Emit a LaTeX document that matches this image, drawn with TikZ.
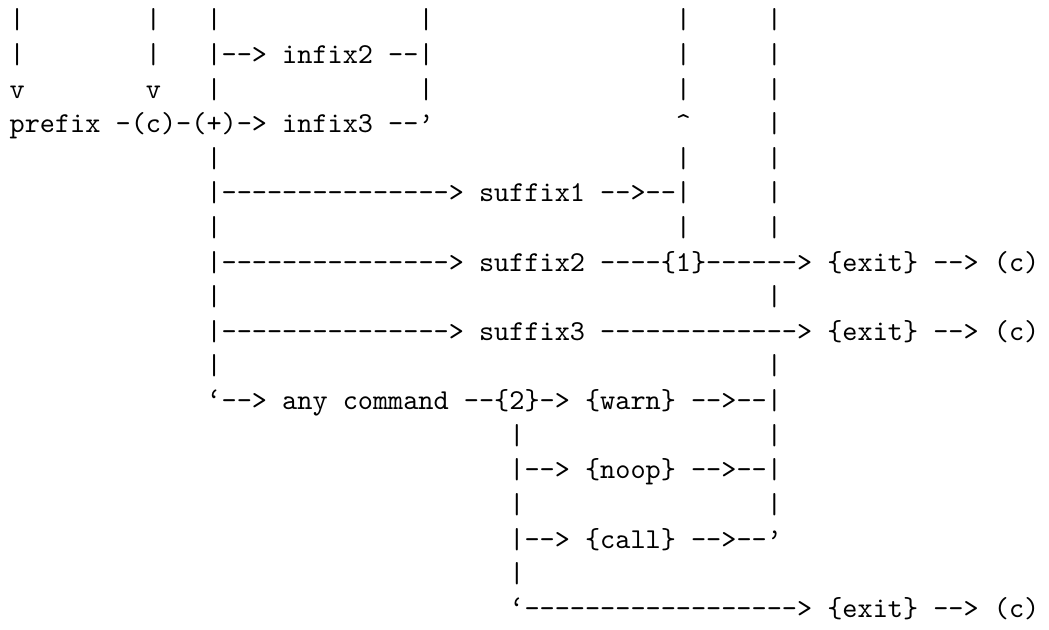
\documentclass[tikz,border=0pt]{standalone}
\usepackage{fontspec}
\setmonofont{lmmono10-regular.otf}
\tikzset{tt/.style={anchor=base west, inner sep=0pt, outer sep=0pt, font=\ttfamily\fontsize{10pt}{12pt}\selectfont}}
\begin{document}
\begin{tikzpicture}[x=5.25pt, y=-12pt]
\useasboundingbox (-0.638,-0.833) rectangle (68.638,17.342);
% row 0
\node[tt] (r0a) at (0,0) {|};
\node[tt] (r0b) at (9,0) {|};
\node[tt] (r0c) at (13,0) {|};
\node[tt] (r0d) at (27,0) {|};
\node[tt] (r0e) at (44,0) {|};
\node[tt] (r0f) at (50,0) {|};
% row 1
\node[tt] (r1a) at (0,1) {|};
\node[tt] (r1b) at (9,1) {|};
\node[tt] (r1c) at (13,1) {|-->};
\node[tt] (infixtwo) at (18,1) {infix2};
\node[tt] (r1d) at (25,1) {--|};
\node[tt] (r1e) at (44,1) {|};
\node[tt] (r1f) at (50,1) {|};
% row 2
\node[tt] (r2a) at (0,2) {v};
\node[tt] (r2b) at (9,2) {v};
\node[tt] (r2c) at (13,2) {|};
\node[tt] (r2d) at (27,2) {|};
\node[tt] (r2e) at (44,2) {|};
\node[tt] (r2f) at (50,2) {|};
% row 3
\node[tt] (prefix) at (0,3) {prefix};
\node[tt] (r3a) at (7,3) {-(c)-(+)->};
\node[tt] (infixthree) at (18,3) {infix3};
\node[tt] (r3b) at (25,3) {--’};
\node[tt] (r3c) at (44,3) {\textasciicircum};
\node[tt] (r3d) at (50,3) {|};
% row 4
\node[tt] (r4a) at (13,4) {|};
\node[tt] (r4b) at (44,4) {|};
\node[tt] (r4c) at (50,4) {|};
% row 5
\node[tt] (r5a) at (13,5) {|--------------->};
\node[tt] (suffixone) at (31,5) {suffix1};
\node[tt] (r5b) at (39,5) {-->--|};
\node[tt] (r5c) at (50,5) {|};
% row 6
\node[tt] (r6a) at (13,6) {|};
\node[tt] (r6b) at (44,6) {|};
\node[tt] (r6c) at (50,6) {|};
% row 7
\node[tt] (r7a) at (13,7) {|--------------->};
\node[tt] (suffixtwo) at (31,7) {suffix2};
\node[tt] (r7b) at (39,7) {----\{1\}------>};
\node[tt] (exitone) at (54,7) {\{exit\}};
\node[tt] (r7c) at (61,7) {-->};
\node[tt] (cone) at (65,7) {(c)};
% row 8
\node[tt] (r8a) at (13,8) {|};
\node[tt] (r8b) at (50,8) {|};
% row 9
\node[tt] (r9a) at (13,9) {|--------------->};
\node[tt] (suffixthree) at (31,9) {suffix3};
\node[tt] (r9b) at (39,9) {------------->};
\node[tt] (exittwo) at (54,9) {\{exit\}};
\node[tt] (r9c) at (61,9) {-->};
\node[tt] (ctwo) at (65,9) {(c)};
% row 10
\node[tt] (r10a) at (13,10) {|};
\node[tt] (r10b) at (50,10) {|};
% row 11
\node[tt] (r11a) at (13,11) {‘-->};
\node[tt] (anycmd) at (18,11) {any command};
\node[tt] (r11b) at (30,11) {--\{2\}->};
\node[tt] (warn) at (38,11) {\{warn\}};
\node[tt] (r11c) at (45,11) {-->--|};
% row 12
\node[tt] (r12a) at (33,12) {|};
\node[tt] (r12b) at (50,12) {|};
% row 13
\node[tt] (r13a) at (33,13) {|-->};
\node[tt] (noop) at (38,13) {\{noop\}};
\node[tt] (r13b) at (45,13) {-->--|};
% row 14
\node[tt] (r14a) at (33,14) {|};
\node[tt] (r14b) at (50,14) {|};
% row 15
\node[tt] (r15a) at (33,15) {|-->};
\node[tt] (call) at (38,15) {\{call\}};
\node[tt] (r15b) at (45,15) {-->--’};
% row 16
\node[tt] (r16a) at (33,16) {|};
% row 17
\node[tt] (r17a) at (33,17) {‘------------------>};
\node[tt] (exitthree) at (54,17) {\{exit\}};
\node[tt] (r17b) at (61,17) {-->};
\node[tt] (cthree) at (65,17) {(c)};
\end{tikzpicture}
\end{document}
